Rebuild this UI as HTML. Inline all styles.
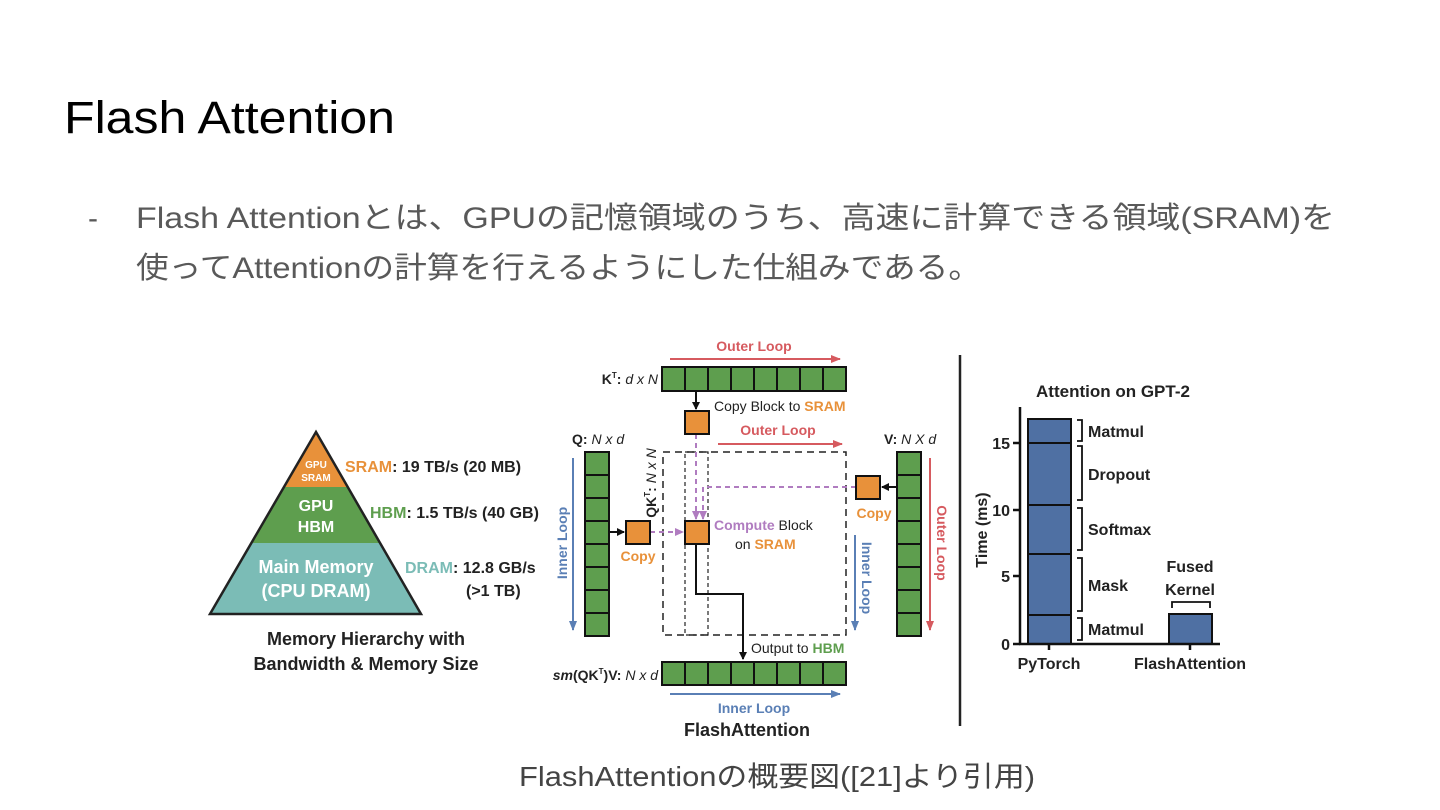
<!DOCTYPE html>
<html><head><meta charset="utf-8"><style>
html,body{margin:0;padding:0;background:#fff;}
svg{display:block}
text{font-family:"Liberation Sans","Noto Sans CJK JP",sans-serif;}
.b{font-weight:bold;fill:#222}
</style></head><body>
<svg width="1440" height="810" viewBox="0 0 1440 810" xmlns="http://www.w3.org/2000/svg" font-size="14">
<defs>
<marker id="ak" markerWidth="8" markerHeight="8" refX="7" refY="4" orient="auto" markerUnits="userSpaceOnUse"><path d="M0,0 L8,4 L0,8 z" fill="#111"/></marker>
<marker id="ar" markerWidth="10" markerHeight="8" refX="9" refY="4" orient="auto" markerUnits="userSpaceOnUse"><path d="M0,0 L10,4 L0,8 z" fill="#d65a5f"/></marker>
<marker id="ab" markerWidth="10" markerHeight="8" refX="9" refY="4" orient="auto" markerUnits="userSpaceOnUse"><path d="M0,0 L10,4 L0,8 z" fill="#5a7fb5"/></marker>
<marker id="ap" markerWidth="9" markerHeight="8" refX="8" refY="4" orient="auto" markerUnits="userSpaceOnUse"><path d="M0,0 L9,4 L0,8 z" fill="#b07cc0"/></marker>
</defs>
<text x="64" y="133" font-size="45" fill="#000" textLength="331" lengthAdjust="spacingAndGlyphs">Flash Attention</text>
<text x="88" y="228" font-size="30" fill="#595959">-</text>
<text x="136" y="228" font-size="30" fill="#595959" textLength="1199" lengthAdjust="spacingAndGlyphs">Flash Attentionとは、GPUの記憶領域のうち、高速に計算できる領域(SRAM)を</text>
<text x="136" y="278" font-size="30" fill="#595959" textLength="845" lengthAdjust="spacingAndGlyphs">使ってAttentionの計算を行えるようにした仕組みである。</text>
<text x="777" y="786" font-size="28" fill="#444" text-anchor="middle" textLength="516" lengthAdjust="spacingAndGlyphs">FlashAttentionの概要図([21]より引用)</text>

<!-- Pyramid -->
<polygon points="316,432 284,487 348,487" fill="#e8913a"/>
<polygon points="284,487 348,487 380,543 252,543" fill="#5e9e4e"/>
<polygon points="252,543 380,543 421,614 210,614" fill="#7bbcb6"/>
<polygon points="316,432 421,614 210,614" fill="none" stroke="#222" stroke-width="2.5"/>
<text x="316" y="468" font-size="10" font-weight="bold" fill="#fff" text-anchor="middle">GPU</text>
<text x="316" y="481" font-size="10" font-weight="bold" fill="#fff" text-anchor="middle">SRAM</text>
<text x="316" y="511" font-size="16" font-weight="bold" fill="#fff" text-anchor="middle">GPU</text>
<text x="316" y="532" font-size="16" font-weight="bold" fill="#fff" text-anchor="middle">HBM</text>
<text x="316" y="573" font-size="18" font-weight="bold" fill="#fff" text-anchor="middle">Main Memory</text>
<text x="316" y="597" font-size="18" font-weight="bold" fill="#fff" text-anchor="middle">(CPU DRAM)</text>
<text x="345" y="472" class="b" font-size="16"><tspan style="fill:#e8913a">SRAM</tspan>: 19 TB/s (20 MB)</text>
<text x="370" y="518" class="b" font-size="16"><tspan style="fill:#5e9e4e">HBM</tspan>: 1.5 TB/s (40 GB)</text>
<text x="405" y="573" class="b" font-size="16"><tspan style="fill:#7bbcb6">DRAM</tspan>: 12.8 GB/s</text>
<text x="466" y="596" class="b" font-size="16">(&gt;1 TB)</text>
<text x="366" y="645" class="b" font-size="18" text-anchor="middle">Memory Hierarchy with</text>
<text x="366" y="670" class="b" font-size="18" text-anchor="middle">Bandwidth &amp; Memory Size</text>

<!-- Middle -->
<text x="754" y="351" class="b" style="fill:#d65a5f" text-anchor="middle">Outer Loop</text>
<line x1="670" y1="359" x2="840" y2="359" stroke="#d65a5f" stroke-width="2" marker-end="url(#ar)"/>
<g fill="#5e9e4e" stroke="#111" stroke-width="2">
<rect x="662" y="367" width="23" height="24"/><rect x="685" y="367" width="23" height="24"/><rect x="708" y="367" width="23" height="24"/><rect x="731" y="367" width="23" height="24"/><rect x="754" y="367" width="23" height="24"/><rect x="777" y="367" width="23" height="24"/><rect x="800" y="367" width="23" height="24"/><rect x="823" y="367" width="23" height="24"/>
<rect x="662" y="662" width="23" height="23"/><rect x="685" y="662" width="23" height="23"/><rect x="708" y="662" width="23" height="23"/><rect x="731" y="662" width="23" height="23"/><rect x="754" y="662" width="23" height="23"/><rect x="777" y="662" width="23" height="23"/><rect x="800" y="662" width="23" height="23"/><rect x="823" y="662" width="23" height="23"/>
<rect x="585" y="452" width="24" height="23"/><rect x="585" y="475" width="24" height="23"/><rect x="585" y="498" width="24" height="23"/><rect x="585" y="521" width="24" height="23"/><rect x="585" y="544" width="24" height="23"/><rect x="585" y="567" width="24" height="23"/><rect x="585" y="590" width="24" height="23"/><rect x="585" y="613" width="24" height="23"/>
<rect x="897" y="452" width="24" height="23"/><rect x="897" y="475" width="24" height="23"/><rect x="897" y="498" width="24" height="23"/><rect x="897" y="521" width="24" height="23"/><rect x="897" y="544" width="24" height="23"/><rect x="897" y="567" width="24" height="23"/><rect x="897" y="590" width="24" height="23"/><rect x="897" y="613" width="24" height="23"/>
</g>
<text x="658" y="384" class="b" text-anchor="end">K<tspan font-size="8" dy="-6">T</tspan><tspan dy="6">: </tspan><tspan font-style="italic" font-weight="normal">d x N</tspan></text>
<text x="658" y="680" class="b" text-anchor="end"><tspan font-style="italic">sm</tspan>(QK<tspan font-size="8" dy="-6">T</tspan><tspan dy="6">)V: </tspan><tspan font-style="italic" font-weight="normal">N x d</tspan></text>
<text x="572" y="444" class="b">Q: <tspan font-style="italic" font-weight="normal">N x d</tspan></text>
<text x="884" y="444" class="b">V: <tspan font-style="italic" font-weight="normal">N X d</tspan></text>
<rect x="663" y="452" width="183" height="183" fill="none" stroke="#222" stroke-width="1.5" stroke-dasharray="7,5"/>
<rect x="685" y="452" width="23" height="183" fill="none" stroke="#222" stroke-width="1.2" stroke-dasharray="4,3"/>
<text transform="translate(656,483) rotate(-90)" class="b" text-anchor="middle">QK<tspan font-size="8" dy="-6">T</tspan><tspan dy="6">: </tspan><tspan font-style="italic" font-weight="normal">N x N</tspan></text>
<line x1="696" y1="391" x2="696" y2="409" stroke="#111" stroke-width="2" marker-end="url(#ak)"/>
<text x="714" y="411" font-size="14" fill="#222">Copy Block to <tspan fill="#e8913a" font-weight="bold">SRAM</tspan></text>
<text x="778" y="435" class="b" style="fill:#d65a5f" text-anchor="middle">Outer Loop</text>
<line x1="718" y1="444" x2="842" y2="444" stroke="#d65a5f" stroke-width="2" marker-end="url(#ar)"/>
<line x1="609" y1="532" x2="624" y2="532" stroke="#111" stroke-width="2" marker-end="url(#ak)"/>
<line x1="897" y1="487" x2="882" y2="487" stroke="#111" stroke-width="2" marker-end="url(#ak)"/>
<line x1="650" y1="532" x2="683" y2="532" stroke="#b07cc0" stroke-width="2" stroke-dasharray="5,4" marker-end="url(#ap)"/>
<line x1="696" y1="434" x2="696" y2="519" stroke="#b07cc0" stroke-width="2" stroke-dasharray="5,4" marker-end="url(#ap)"/>
<polyline points="856,487 703,487 703,519" fill="none" stroke="#b07cc0" stroke-width="2" stroke-dasharray="5,4" marker-end="url(#ap)"/>
<g fill="#e8913a" stroke="#111" stroke-width="2">
<rect x="685" y="411" width="24" height="23"/>
<rect x="626" y="521" width="24" height="23"/>
<rect x="685" y="521" width="24" height="23"/>
<rect x="856" y="476" width="24" height="23"/>
</g>
<text x="638" y="561" class="b" style="fill:#e8913a" text-anchor="middle">Copy</text>
<text x="874" y="518" class="b" style="fill:#e8913a" text-anchor="middle">Copy</text>
<text x="714" y="530" font-size="14" fill="#222"><tspan fill="#b07cc0" font-weight="bold">Compute</tspan> Block</text>
<text x="735" y="549" font-size="14" fill="#222">on <tspan fill="#e8913a" font-weight="bold">SRAM</tspan></text>
<polyline points="696,544 696,594 743,594 743,659" fill="none" stroke="#111" stroke-width="2" marker-end="url(#ak)"/>
<text x="751" y="653" font-size="14" fill="#222">Output to <tspan fill="#5e9e4e" font-weight="bold">HBM</tspan></text>
<line x1="670" y1="694" x2="840" y2="694" stroke="#5a7fb5" stroke-width="2" marker-end="url(#ab)"/>
<text x="754" y="713" class="b" style="fill:#5a7fb5" text-anchor="middle">Inner Loop</text>
<text x="747" y="736" class="b" font-size="18" text-anchor="middle">FlashAttention</text>
<line x1="573" y1="458" x2="573" y2="630" stroke="#5a7fb5" stroke-width="2" marker-end="url(#ab)"/>
<text transform="translate(567,543) rotate(-90)" class="b" style="fill:#5a7fb5" text-anchor="middle">Inner Loop</text>
<line x1="855" y1="535" x2="855" y2="630" stroke="#5a7fb5" stroke-width="2" marker-end="url(#ab)"/>
<text transform="translate(862,578) rotate(90)" class="b" style="fill:#5a7fb5" text-anchor="middle">Inner Loop</text>
<line x1="930" y1="458" x2="930" y2="630" stroke="#d65a5f" stroke-width="2" marker-end="url(#ar)"/>
<text transform="translate(937,543) rotate(90)" class="b" style="fill:#d65a5f" text-anchor="middle">Outer Loop</text>

<line x1="960" y1="355" x2="960" y2="726" stroke="#222" stroke-width="2.5"/>

<!-- Chart -->
<text x="1113" y="397" class="b" font-size="17" text-anchor="middle">Attention on GPT-2</text>
<rect x="1028" y="419" width="43" height="225" fill="#4f70a3" stroke="#111" stroke-width="2"/>
<g stroke="#111" stroke-width="2">
<line x1="1028" y1="443" x2="1071" y2="443"/><line x1="1028" y1="505" x2="1071" y2="505"/><line x1="1028" y1="554" x2="1071" y2="554"/><line x1="1028" y1="615" x2="1071" y2="615"/>
</g>
<rect x="1169" y="614" width="43" height="30" fill="#4f70a3" stroke="#111" stroke-width="2"/>
<g fill="none" stroke="#111" stroke-width="1.8">
<polyline points="1077,420 1082,420 1082,441 1077,441"/>
<polyline points="1077,446 1082,446 1082,500 1077,500"/>
<polyline points="1077,508 1082,508 1082,550 1077,550"/>
<polyline points="1077,558 1082,558 1082,611 1077,611"/>
<polyline points="1077,618 1082,618 1082,640 1077,640"/>
<polyline points="1172,608 1172,602 1210,602 1210,608"/>
</g>
<g font-size="16">
<text x="1088" y="437" class="b">Matmul</text>
<text x="1088" y="480" class="b">Dropout</text>
<text x="1088" y="535" class="b">Softmax</text>
<text x="1088" y="591" class="b">Mask</text>
<text x="1088" y="635" class="b">Matmul</text>
<text x="1190" y="572" class="b" text-anchor="middle">Fused</text>
<text x="1190" y="595" class="b" text-anchor="middle">Kernel</text>
</g>
<g stroke="#111" stroke-width="2.5">
<line x1="1020" y1="407" x2="1020" y2="645"/>
<line x1="1019" y1="644" x2="1220" y2="644"/>
<line x1="1013" y1="644" x2="1020" y2="644"/><line x1="1013" y1="576" x2="1020" y2="576"/><line x1="1013" y1="510" x2="1020" y2="510"/><line x1="1013" y1="443" x2="1020" y2="443"/>
<line x1="1049" y1="644" x2="1049" y2="650"/><line x1="1190" y1="644" x2="1190" y2="650"/>
</g>
<g font-size="16">
<text x="1010" y="650" class="b" text-anchor="end">0</text>
<text x="1010" y="582" class="b" text-anchor="end">5</text>
<text x="1010" y="516" class="b" text-anchor="end">10</text>
<text x="1010" y="449" class="b" text-anchor="end">15</text>
<text transform="translate(987,530) rotate(-90)" class="b" text-anchor="middle">Time (ms)</text>
<text x="1049" y="669" class="b" text-anchor="middle">PyTorch</text>
<text x="1190" y="669" class="b" text-anchor="middle">FlashAttention</text>
</g>
</svg>
</body></html>
